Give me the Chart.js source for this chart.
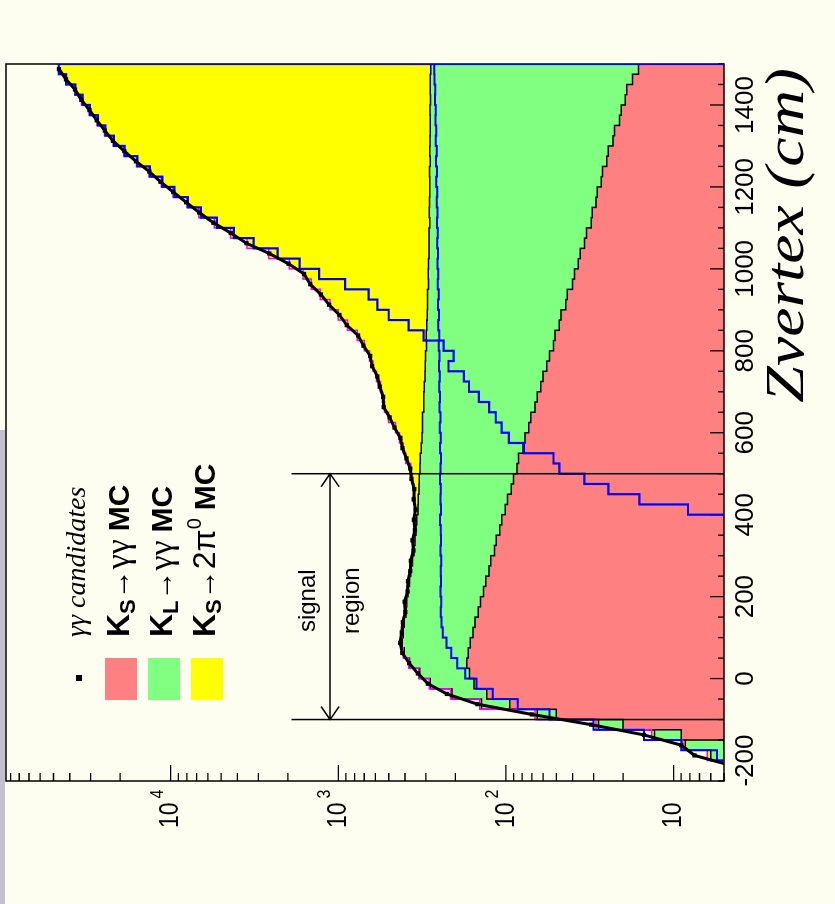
<!DOCTYPE html>
<html>
<head>
<meta charset="utf-8">
<title>Zvertex</title>
<script src="https://cdn.jsdelivr.net/npm/chart.js"></script>
<style>
  html, body { margin: 0; padding: 0; overflow: hidden; background: #fdfdf0; width: 835px; height: 904px; }
  #wrap { position: absolute; left: 0; top: 0; width: 904px; height: 835px; transform-origin: 0 0; transform: translate(0, 904px) rotate(-90deg); }
  #edge { position: absolute; left: 0; top: 430px; width: 5px; height: 474px; background: #c3c0cb; }
</style>
</head>
<body>
<div id="wrap"><canvas id="zChart" width="904" height="835"></canvas></div>
<div id="edge"></div>
<script>
// bin edges in cm (25 cm bins)
const zEdges = [-250, -225, -200, -175, -150, -125, -100, -75, -50, -25, 0, 25, 50, 75, 100, 125, 150, 175, 200, 225,
  250, 275, 300, 325, 350, 375, 400, 425, 450, 475, 500, 525, 550, 575, 600, 625, 650, 675, 700, 725,
  750, 775, 800, 825, 850, 875, 900, 925, 950, 975, 1000, 1025, 1050, 1075, 1100, 1125, 1150, 1175, 1200, 1225,
  1250, 1275, 1300, 1325, 1350, 1375, 1400, 1425, 1450, 1475, 1500];

// gamma gamma candidates (data)
const dataCounts = [2.5, 4.5, 7.5, 9, 15, 31, 70, 148, 225, 292,
  335, 378, 415, 428, 418, 412, 398, 402, 386, 384,
  372, 369, 356, 361, 349, 354, 346, 355, 352, 366,
  372, 392, 414, 426, 462, 494, 536, 540, 566, 585,
  628, 645, 708, 762, 890, 985, 1135, 1270, 1470, 1600,
  1980, 2580, 3530, 4380, 5560, 6750, 8080, 9650, 11500, 13400,
  16100, 18900, 22100, 24700, 27600, 30500, 34100, 37200, 42100, 46400];

// K_S -> gamma gamma MC
const ksGG = [1, 2, 3.5, 5, 9, 20, 50, 95, 130, 155,
  165, 171, 168, 163, 157, 153, 146, 142, 136, 132,
  126, 123, 117, 114, 109, 106, 101, 98, 93, 90,
  86, 84, 79, 77, 73, 71, 67, 65, 62, 60,
  57, 55, 52, 51, 48, 47, 44, 43, 40, 39,
  37, 36, 34, 33, 31, 30.5, 29, 28.5, 27, 26.5,
  25, 24.5, 23, 22.5, 21, 20.5, 19.4, 19, 17.6, 16.2];

// K_L -> gamma gamma MC
const klGG = [1, 1.5, 2.5, 3.5, 4, 8, 15, 45, 80, 128,
  162, 205, 236, 252, 253, 251, 249, 249, 248, 244,
  243, 238, 237, 235, 235, 234, 234, 235, 237, 239,
  239, 240, 241, 240, 242, 243, 242, 244, 245, 244,
  246, 247, 246, 248, 249, 248, 250, 251, 250, 252,
  253, 252, 254, 255, 254, 256, 257, 256, 258, 259,
  258, 260, 261, 260, 262, 263, 262, 264, 265, 265];

// K_S -> 2pi0 MC
const ks2pi0 = [0.1, 0.2, 0.3, 0.3, 0.5, 1, 2, 3, 4, 4,
  4, 4, 5, 6, 6, 5, 5, 5, 5, 5,
  6, 5, 6, 7, 8, 10, 13, 18, 24, 34,
  45, 72, 90, 114, 140, 187, 221, 237, 253, 287,
  317, 349, 402, 472, 583, 706, 826, 987, 1160, 1330,
  1670, 2310, 3210, 4110, 5210, 6510, 7710, 9410, 11100, 13200,
  15700, 18700, 21700, 24500, 27200, 30300, 33700, 37000, 41700, 46200];

// blue outline histograms
const blueFlat = [1.5, 3, 5.5, 9, 15, 30, 55, 85, 120, 150,
  175, 195, 212, 226, 238, 242, 245, 243, 246, 244,
  245, 243, 246, 244, 245, 247, 244, 246, 245, 247,
  246, 244, 247, 245, 248, 246, 249, 247, 250, 248,
  251, 249, 252, 250, 253, 251, 254, 252, 255, 253,
  256, 254, 257, 255, 258, 256, 259, 257, 260, 258,
  261, 259, 262, 260, 263, 262, 265, 264, 267, 268];

const blueSteep = [0.5, 0.5, 0.5, 0.5, 0.5, 0.5, 0.5, 0.5, 0.5, 0.5,
  0.5, 0.5, 0.5, 0.5, 0.5, 0.5, 0.5, 0.5, 0.5, 0.5,
  0.5, 0.5, 0.5, 0.5, 0.5, 3, 8.2, 16, 24.5, 34,
  48, 52, 78, 96, 106, 115, 126, 145, 166, 178,
  220, 205, 235, 310, 380, 500, 585, 660, 910, 1300,
  1700, 2300, 3200, 4200, 5300, 6600, 7900, 9500, 11200, 13300,
  15800, 18800, 21800, 24500, 27200, 30300, 33500, 37000, 42000, 46500];

const zTicks = [-200, 0, 200, 400, 600, 800, 1000, 1200, 1400];
const logDecades = [10, 100, 1000, 10000];

const sans = '"Liberation Sans", Arial, sans-serif';
const serif = '"Liberation Serif", "Times New Roman", serif';

function histPoints(vals, drop) {
    const pts = vals.map((v, i) => ({ x: zEdges[i], y: v }));
    pts.push({ x: zEdges[vals.length], y: vals[vals.length - 1] });
    if (drop) pts.push({ x: zEdges[vals.length], y: 0.5 });
    return pts;
}

const greenTop = ksGG.map((v, i) => v + klGG[i]);
const yellowTop = greenTop.map((v, i) => v + ks2pi0[i]);
const dataPoints = dataCounts.map((c, i) => ({ x: (zEdges[i] + zEdges[i + 1]) / 2, y: c }));

function drawRich(ctx, u, v, parts) {
    let x = u;
    parts.forEach(p => {
        ctx.font = p.font;
        ctx.fillText(p.t, x, v + (p.dy || 0));
        x += ctx.measureText(p.t).width + (p.gap || 0);
    });
}

const decor = {
    id: 'decor',
    beforeDatasetsDraw(chart) {
        const { ctx, chartArea: a, scales: { x, y } } = chart;
        ctx.save();
        ctx.strokeStyle = '#000';
        ctx.lineWidth = 1.5;
        ctx.strokeRect(a.left, a.top, a.right - a.left, a.bottom - a.top);
        ctx.lineWidth = 1.3;
        ctx.beginPath();
        // z ticks, pointing into the frame
        for (let z = -250; z <= 1500; z += 50) {
            const px = x.getPixelForValue(z);
            const len = z % 200 === 0 ? 14 : 6;
            ctx.moveTo(px, a.bottom);
            ctx.lineTo(px, a.bottom - len);
        }
        // log ticks
        for (let e = 0; e <= 4; e++) {
            for (let m = 1; m <= 9; m++) {
                const val = m * Math.pow(10, e);
                if (val < 5 || val > 96000) continue;
                const py = y.getPixelForValue(val);
                ctx.moveTo(a.left, py);
                ctx.lineTo(a.left + (m === 1 ? 16 : 8), py);
            }
        }
        ctx.stroke();
        ctx.restore();
    },
    afterDraw(chart) {
        const { ctx, chartArea: a, scales: { x, y } } = chart;
        ctx.save();
        ctx.fillStyle = '#000';
        ctx.strokeStyle = '#000';

        // log axis labels 10, 10^2 ...
        logDecades.forEach(d => {
            const py = y.getPixelForValue(d);
            const exp = Math.round(Math.log10(d));
            ctx.save();
            ctx.translate(76, py);
            ctx.scale(1, 1.2);
            ctx.textBaseline = 'middle';
            ctx.textAlign = 'left';
            ctx.font = `23px ${sans}`;
            ctx.fillText('10', 0, 0);
            const w = ctx.measureText('10').width;
            if (exp > 1) {
                ctx.font = `16px ${sans}`;
                ctx.fillText(String(exp), w + 4, -11);
            }
            ctx.restore();
        });

        // axis title
        ctx.save();
        ctx.translate(836, 803);
        ctx.scale(1.22, 1);
        ctx.font = `italic 54px ${serif}`;
        ctx.textAlign = 'right';
        ctx.textBaseline = 'alphabetic';
        ctx.fillText('Zvertex (cm)', 0, 0);
        ctx.restore();

        // signal region
        const xl = x.getPixelForValue(-100);
        const xh = x.getPixelForValue(500);
        const yTop = y.getPixelForValue(1900);
        const yArr = y.getPixelForValue(1120);
        ctx.lineWidth = 1.5;
        ctx.beginPath();
        ctx.moveTo(xl, yTop); ctx.lineTo(xl, a.bottom);
        ctx.moveTo(xh, yTop); ctx.lineTo(xh, a.bottom);
        ctx.moveTo(xl, yArr); ctx.lineTo(xh, yArr);
        ctx.moveTo(xl + 13, yArr - 9); ctx.lineTo(xl, yArr); ctx.lineTo(xl + 13, yArr + 9);
        ctx.moveTo(xh - 13, yArr - 9); ctx.lineTo(xh, yArr); ctx.lineTo(xh - 13, yArr + 9);
        ctx.stroke();
        ctx.font = `24px ${sans}`;
        ctx.textAlign = 'center';
        ctx.textBaseline = 'middle';
        const xm = x.getPixelForValue(190);
        ctx.fillText('signal', xm, y.getPixelForValue(1500));
        ctx.fillText('region', xm, y.getPixelForValue(820));

        // legend
        ctx.textAlign = 'left';
        ctx.textBaseline = 'alphabetic';
        ctx.fillRect(223, 76, 6, 6);
        drawRich(ctx, 267, 85, [{ t: 'γγ candidates', font: `italic 28px ${serif}` }]);
        const rows = [
            { v: 121, color: '#ff8080', parts: [
                { t: 'K', font: `bold 32px ${sans}` },
                { t: 'S', font: `bold 22px ${sans}`, dy: 6 },
                { t: '→', font: `30px ${serif}` },
                { t: 'γγ', font: `34px ${serif}`, gap: 8 },
                { t: 'MC', font: `bold 30px ${sans}` }] },
            { v: 164, color: '#80ff80', parts: [
                { t: 'K', font: `bold 32px ${sans}` },
                { t: 'L', font: `bold 22px ${sans}`, dy: 6 },
                { t: '→', font: `30px ${serif}` },
                { t: 'γγ', font: `34px ${serif}`, gap: 8 },
                { t: 'MC', font: `bold 30px ${sans}` }] },
            { v: 207, color: '#ffff00', parts: [
                { t: 'K', font: `bold 32px ${sans}` },
                { t: 'S', font: `bold 22px ${sans}`, dy: 6 },
                { t: '→', font: `30px ${serif}` },
                { t: '2π', font: `32px ${sans}` },
                { t: '0', font: `20px ${sans}`, dy: -14, gap: 8 },
                { t: 'MC', font: `bold 30px ${sans}` }] }
        ];
        rows.forEach(r => {
            ctx.fillStyle = r.color;
            ctx.fillRect(204, r.v - 16, 42, 32);
            ctx.fillStyle = '#000';
            drawRich(ctx, 267, r.v + 8, r.parts);
        });
        ctx.restore();
    }
};

const line = (extra) => Object.assign({
    stepped: true, pointRadius: 0, borderWidth: 1.5, fill: false, tension: 0
}, extra);

new Chart(document.getElementById('zChart'), {
    type: 'line',
    data: {
        datasets: [
            line({ label: 'Ks gg', data: histPoints(ksGG), fill: 'start', backgroundColor: '#ff8080', borderColor: '#000', order: 5 }),
            line({ label: 'KL gg', data: histPoints(greenTop), fill: '-1', backgroundColor: '#80ff80', borderColor: '#000', order: 4 }),
            line({ label: 'Ks 2pi0', data: histPoints(yellowTop), fill: '-1', backgroundColor: '#ffff00', borderColor: 'rgba(0,0,0,0)', borderWidth: 0, order: 6 }),
            line({ label: 'MC sum', data: histPoints(yellowTop), borderColor: '#ff00ff', borderWidth: 1.5, order: 3 }),
            line({ label: 'blue flat', data: histPoints(blueFlat, true), borderColor: '#0000ff', borderWidth: 2, order: 2 }),
            line({ label: 'blue steep', data: histPoints(blueSteep, true), borderColor: '#0000ff', borderWidth: 2.2, order: 1 }),
            {
                label: 'data', data: dataPoints, stepped: false, borderColor: '#000', borderWidth: 3,
                pointStyle: 'rect', pointRadius: 3, pointBackgroundColor: '#000', pointBorderWidth: 0,
                fill: false, order: 0
            }
        ]
    },
    options: {
        responsive: false,
        devicePixelRatio: 1,
        animation: false,
        events: [],
        layout: { padding: { top: 6, right: 64, left: 0, bottom: 0 } },
        plugins: {
            legend: { display: false },
            tooltip: { enabled: false },
            filler: { drawTime: 'beforeDatasetsDraw' }
        },
        scales: {
            x: {
                type: 'linear', position: 'bottom', min: -250, max: 1500,
                grid: { display: false, drawTicks: false },
                border: { display: false },
                ticks: {
                    color: '#000', padding: 6, maxRotation: 0, autoSkip: false,
                    font: { family: sans, size: 26 },
                    callback: v => String(v)
                },
                afterBuildTicks: s => { s.ticks = zTicks.map(v => ({ value: v })); },
                afterFit: s => { s.height = 111; }
            },
            y: {
                type: 'logarithmic', position: 'left', min: 5, max: 96000,
                grid: { display: false, drawTicks: false },
                border: { display: false },
                ticks: { display: false },
                afterFit: s => { s.width = 123; }
            }
        }
    },
    plugins: [decor]
});
</script>
</body>
</html>
